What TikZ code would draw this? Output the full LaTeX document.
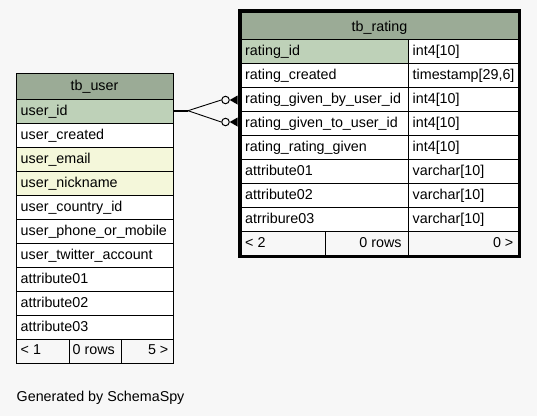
\documentclass[tikz,border=0pt]{standalone}
\usepackage{fontspec}
\setmainfont{Liberation Sans}
\definecolor{bgc}{HTML}{F7F7F7}
\definecolor{headc}{HTML}{9BAB96}
\definecolor{pkc}{HTML}{BED1B8}
\definecolor{idxc}{HTML}{F4F7DA}
\begin{document}
\begin{tikzpicture}[x=1pt,y=-1pt,
  txt/.style={anchor=base west, inner sep=0, font=\fontsize{14.3}{16}\selectfont},
  rtxt/.style={anchor=base east, inner sep=0, font=\fontsize{14.3}{16}\selectfont},
  htxt/.style={anchor=base, inner sep=0, font=\fontsize{14.3}{16}\selectfont},
  cellline/.style={draw=black, line width=1pt},
  odotc/.style={circle, draw=black, fill=bgc, line width=1pt, inner sep=0, minimum size=7.5pt},
  edge/.style={draw=black, line width=0.9pt}]
\useasboundingbox (0,0) rectangle (537,416);
\fill[bgc] (0,0) rectangle (537,416);

% ---------- tb_user ----------
\filldraw[cellline, fill=headc] (16,73) rectangle (173,99);
\filldraw[cellline, fill=pkc] (16,99) rectangle (173,123);
\filldraw[cellline, fill=white] (16,123) rectangle (173,147);
\filldraw[cellline, fill=idxc] (16,147) rectangle (173,171);
\filldraw[cellline, fill=idxc] (16,171) rectangle (173,195);
\filldraw[cellline, fill=white] (16,195) rectangle (173,219);
\filldraw[cellline, fill=white] (16,219) rectangle (173,243);
\filldraw[cellline, fill=white] (16,243) rectangle (173,267);
\filldraw[cellline, fill=white] (16,267) rectangle (173,291);
\filldraw[cellline, fill=white] (16,291) rectangle (173,315);
\filldraw[cellline, fill=white] (16,315) rectangle (173,339);
\filldraw[cellline, fill=bgc] (16,339) rectangle (69.5,363);
\filldraw[cellline, fill=bgc] (69.5,339) rectangle (121.7,363);
\filldraw[cellline, fill=bgc] (121.7,339) rectangle (173,363);

\node[htxt] (uhead) at (94.5,90) {tb\_user};
\node[txt] (u1) at (20.5,115) {user\_id};
\node[txt] (u2) at (20.5,139) {user\_created};
\node[txt] (u3) at (20.5,163) {user\_email};
\node[txt] (u4) at (20.5,187) {user\_nickname};
\node[txt] (u5) at (20.5,211) {user\_country\_id};
\node[txt] (u6) at (20.5,235) {user\_phone\_or\_mobile};
\node[txt] (u7) at (20.5,259) {user\_twitter\_account};
\node[txt] (u8) at (20.5,283) {attribute01};
\node[txt] (u9) at (20.5,307) {attribute02};
\node[txt] (u10) at (20.5,331) {attribute03};
\node[txt] (uf1) at (20.5,354) {< 1};
\node[rtxt] (uf2) at (115,354) {0 rows};
\node[rtxt] (uf3) at (168.5,354) {5 >};

% ---------- tb_rating ----------
\filldraw[cellline, fill=headc] (241,12.5) rectangle (518,39);
\filldraw[cellline, fill=pkc] (241,39) rectangle (408.7,63);
\filldraw[cellline, fill=white] (408.7,39) rectangle (518,63);
\foreach \t in {63,87,111,135,159,183,207}{
  \filldraw[cellline, fill=white] (241,\t) rectangle (408.7,\t+24);
  \filldraw[cellline, fill=white] (408.7,\t) rectangle (518,\t+24);
}
\filldraw[cellline, fill=bgc] (241,231) rectangle (325.7,255);
\filldraw[cellline, fill=bgc] (325.7,231) rectangle (408.7,255);
\filldraw[cellline, fill=bgc] (408.7,231) rectangle (518,255);
\draw[line width=3.5pt] (239.25,10.75) rectangle (519.6,256.6);

\node[htxt] (rhead) at (379.5,31.5) {tb\_rating};
\node[txt] (r1) at (245,55) {rating\_id};
\node[txt] (r1t) at (412.5,55) {int4[10]};
\node[txt] (r2) at (245,79) {rating\_created};
\node[txt] (r2t) at (412.5,79) {timestamp[29,6]};
\node[txt] (r3) at (245,103) {rating\_given\_by\_user\_id};
\node[txt] (r3t) at (412.5,103) {int4[10]};
\node[txt] (r4) at (245,127) {rating\_given\_to\_user\_id};
\node[txt] (r4t) at (412.5,127) {int4[10]};
\node[txt] (r5) at (245,151) {rating\_rating\_given};
\node[txt] (r5t) at (412.5,151) {int4[10]};
\node[txt] (r6) at (245,175) {attribute01};
\node[txt] (r6t) at (412.5,175) {varchar[10]};
\node[txt] (r7) at (245,199) {attribute02};
\node[txt] (r7t) at (412.5,199) {varchar[10]};
\node[txt] (r8) at (245,223) {atrribure03};
\node[txt] (r8t) at (412.5,223) {varchar[10]};
\node[txt] (rf1) at (245,247) {< 2};
\node[rtxt] (rf2) at (401.7,247) {0 rows};
\node[rtxt] (rf3) at (513.5,247) {0 >};

% ---------- connectors ----------
\coordinate (src) at (173.5,110.7);
\coordinate (split) at (188,110.7);
\node[odotc] (c1) at (225.5,100) {};
\node[odotc] (c2) at (225.5,122) {};
\coordinate (t1) at (237.5,100);
\coordinate (t2) at (237.5,122);
\draw[edge, line width=1.8pt] (src) -- (split);
\draw[edge] (split) -- (c1.west);
\draw[edge] (split) -- (c2.west);
\fill[black] (c1.east) -- ([yshift=-4.5pt]t1) -- ([yshift=4.5pt]t1) -- cycle;
\fill[black] (c2.east) -- ([yshift=-4.5pt]t2) -- ([yshift=4.5pt]t2) -- cycle;

\node[txt] (gen) at (16.5,401.5) {Generated by SchemaSpy};
\end{tikzpicture}
\end{document}
